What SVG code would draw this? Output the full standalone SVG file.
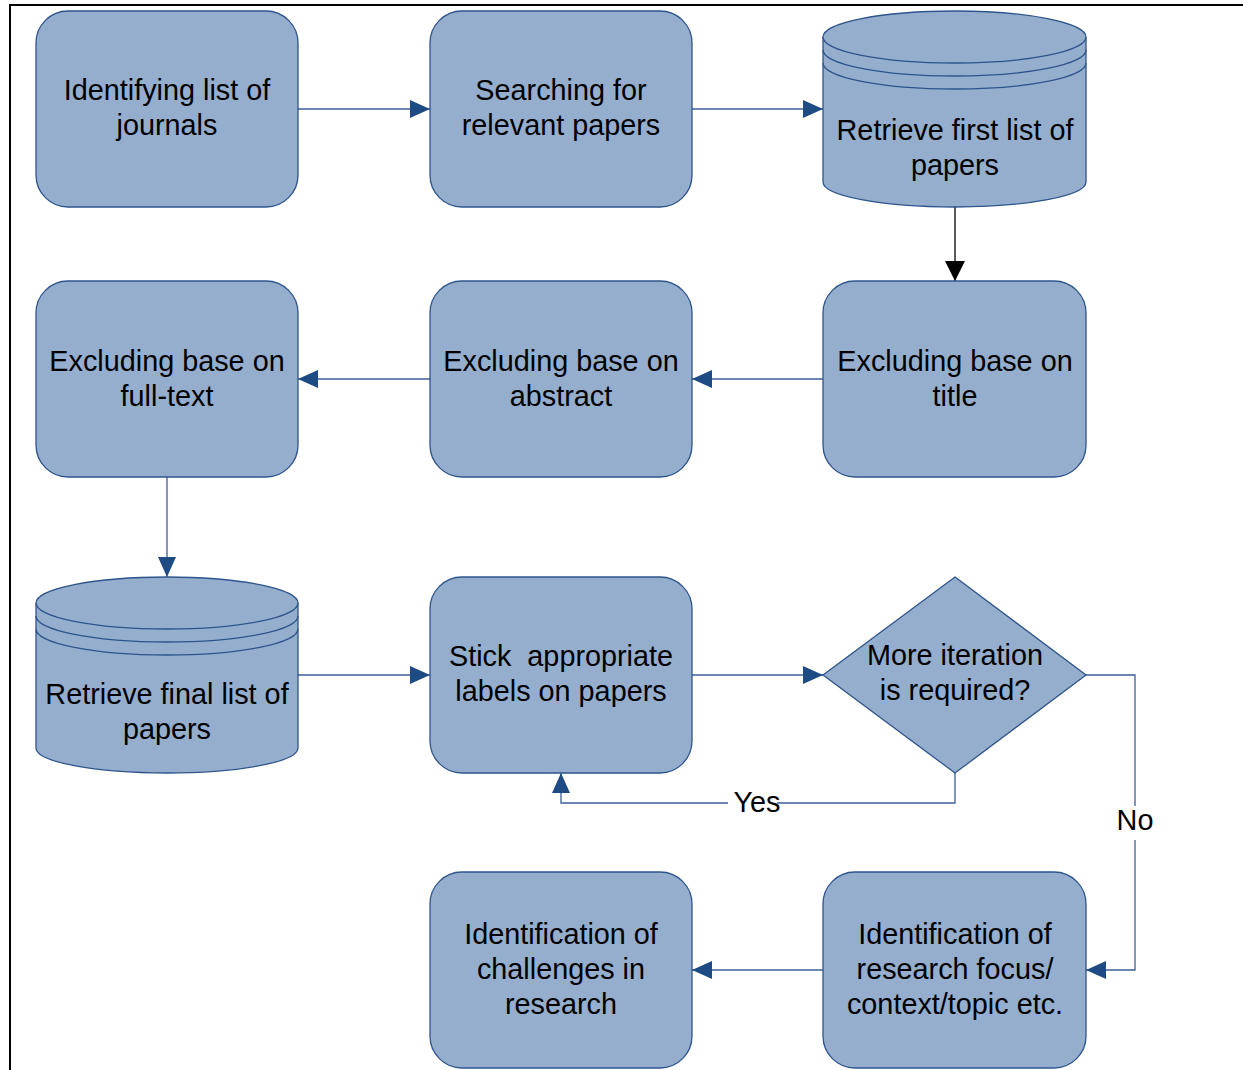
<svg xmlns="http://www.w3.org/2000/svg" width="1243" height="1070" viewBox="0 0 1243 1070">
<style>
.n{fill:#95AECE;stroke:#2E548C;stroke-width:1.3}
.t{font-family:"Liberation Sans",Arial,sans-serif;font-size:28.8px;fill:#000;text-anchor:middle}
.c{fill:none;stroke:#3C5F97;stroke-width:1.3}
.k{fill:none;stroke:#000;stroke-width:1.3}
</style>
<defs>
<marker id="ab" markerUnits="userSpaceOnUse" markerWidth="20" markerHeight="18" refX="20" refY="9" orient="auto"><path d="M0,0 L20,9 L0,18 Z" fill="#1F4B85"/></marker>
<marker id="ak" markerUnits="userSpaceOnUse" markerWidth="20" markerHeight="20" refX="20" refY="10" orient="auto"><path d="M0,0 L20,10 L0,20 Z" fill="#000"/></marker>
</defs>
<rect width="1243" height="1070" fill="#fff"/>
<path d="M10,1070 L10,5 L1243,5" fill="none" stroke="#000" stroke-width="2"/>
<g id="connectors">
<path class="c" d="M298,109 L430,109" marker-end="url(#ab)"/>
<path class="c" d="M692,109 L823,109" marker-end="url(#ab)"/>
<path class="k" d="M955,207 L955,281" marker-end="url(#ak)"/>
<path class="c" d="M823,379 L692,379" marker-end="url(#ab)"/>
<path class="c" d="M430,379 L298,379" marker-end="url(#ab)"/>
<path class="c" d="M167,477 L167,577" marker-end="url(#ab)"/>
<path class="c" d="M298,675 L430,675" marker-end="url(#ab)"/>
<path class="c" d="M692,675 L823,675" marker-end="url(#ab)"/>
<path class="c" d="M955,773 L955,803 L777,803"/>
<path class="c" d="M728,803 L561,803 L561,773" marker-end="url(#ab)"/>
<path class="c" d="M1086,675 L1135,675 L1135,806"/>
<path class="c" d="M1135,840 L1135,970 L1086,970" marker-end="url(#ab)"/>
<path class="c" d="M823,970 L692,970" marker-end="url(#ab)"/>
<text class="t" x="757" y="812">Yes</text>
<text class="t" x="1135" y="830">No</text>
</g>
<g id="n1"><rect class="n" x="36" y="11" width="262" height="196" rx="32"/><text class="t" x="167" y="100">Identifying list of</text><text class="t" x="167" y="135">journals</text></g>
<g id="n2"><rect class="n" x="430" y="11" width="262" height="196" rx="32"/><text class="t" x="561" y="100">Searching for</text><text class="t" x="561" y="135">relevant papers</text></g>
<g id="n3"><path class="n" d="M823,37 A131.5,26 0 0 1 1086,37 L1086,182 A131.5,25 0 0 1 823,182 Z"/><path class="c" style="stroke:#2E548C" d="M823,37 A131.5,26 0 0 0 1086,37 M823,50 A131.5,26 0 0 0 1086,50 M823,63 A131.5,26 0 0 0 1086,63"/><text class="t" x="955" y="140">Retrieve first list of</text><text class="t" x="955" y="175">papers</text></g>
<g id="n4"><rect class="n" x="823" y="281" width="263" height="196" rx="32"/><text class="t" x="955" y="371">Excluding base on</text><text class="t" x="955" y="406">title</text></g>
<g id="n5"><rect class="n" x="430" y="281" width="262" height="196" rx="32"/><text class="t" x="561" y="371">Excluding base on</text><text class="t" x="561" y="406">abstract</text></g>
<g id="n6"><rect class="n" x="36" y="281" width="262" height="196" rx="32"/><text class="t" x="167" y="371">Excluding base on</text><text class="t" x="167" y="406">full-text</text></g>
<g id="n7"><path class="n" d="M36,603 A131,26 0 0 1 298,603 L298,748 A131,25 0 0 1 36,748 Z"/><path class="c" style="stroke:#2E548C" d="M36,603 A131,26 0 0 0 298,603 M36,616 A131,26 0 0 0 298,616 M36,629 A131,26 0 0 0 298,629"/><text class="t" x="167" y="704">Retrieve final list of</text><text class="t" x="167" y="739">papers</text></g>
<g id="n8"><rect class="n" x="430" y="577" width="262" height="196" rx="32"/><text class="t" x="561" y="666" style="white-space:pre">Stick  appropriate</text><text class="t" x="561" y="701">labels on papers</text></g>
<g id="n9"><polygon class="n" points="955,577 1086,675 955,773 823,675"/><text class="t" x="955" y="665">More iteration</text><text class="t" x="955" y="700">is required?</text></g>
<g id="n10"><rect class="n" x="823" y="872" width="263" height="196" rx="32"/><text class="t" x="955" y="944">Identification of</text><text class="t" x="955" y="979">research focus/</text><text class="t" x="955" y="1014">context/topic etc.</text></g>
<g id="n11"><rect class="n" x="430" y="872" width="262" height="196" rx="32"/><text class="t" x="561" y="944">Identification of</text><text class="t" x="561" y="979">challenges in</text><text class="t" x="561" y="1014">research</text></g>
</svg>
